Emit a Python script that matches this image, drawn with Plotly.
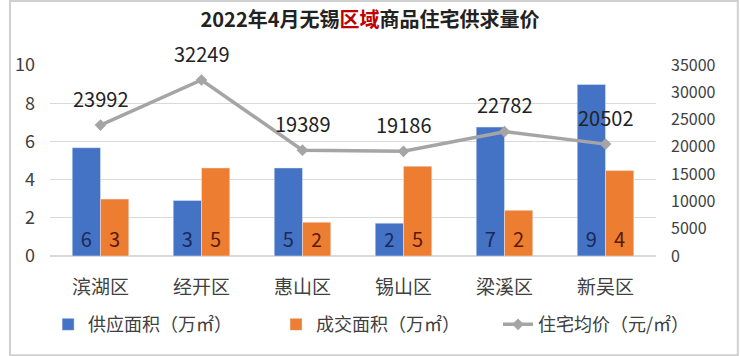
import plotly.graph_objects as go

categories = ["滨湖区", "经开区", "惠山区", "锡山区", "梁溪区", "新吴区"]
supply = [5.67, 2.91, 4.61, 1.72, 6.75, 8.98]
deal = [2.98, 4.61, 1.77, 4.70, 2.39, 4.47]
price = [23992, 32249, 19389, 19186, 22782, 20502]

FONT = "Noto Sans CJK SC"
BLUE = "#4472C4"
ORANGE = "#ED7D31"
GRAY = "#A5A5A5"

fig = go.Figure()
fig.add_trace(go.Bar(
    x=categories, y=supply, name="供应面积（万㎡）", legend="legend",
    marker_color=BLUE,
    text=[f"{round(v)}" for v in supply], textposition="inside",
    insidetextanchor="start",
    textfont=dict(color="#1B2A57", size=20, family=FONT),
))
fig.add_trace(go.Bar(
    x=categories, y=deal, name="成交面积（万㎡）", legend="legend2",
    marker_color=ORANGE,
    text=[f"{round(v)}" for v in deal], textposition="inside",
    insidetextanchor="start",
    textfont=dict(color="#5A1A08", size=20, family=FONT),
))
fig.add_trace(go.Scatter(
    x=categories, y=price, name="住宅均价（元/㎡）", yaxis="y2", legend="legend3",
    mode="lines+markers",
    line=dict(color=GRAY, width=3.5),
    marker=dict(symbol="diamond", size=9, color=GRAY),
))

for c, p in zip(categories, price):
    fig.add_annotation(x=c, y=p, yref="y2", text=str(p), showarrow=False,
                       yshift=27, font=dict(size=20, color="#222222", family=FONT))

leg = dict(orientation="h", xref="container", yref="container",
           xanchor="left", y=0.14, yanchor="top",
           font=dict(size=18, color="#404040"))

fig.update_layout(
    width=740, height=356,
    paper_bgcolor="white", plot_bgcolor="white",
    margin=dict(l=50, r=84, t=65, b=100, autoexpand=False),
    font=dict(family=FONT, color="#404040", size=16),
    title=dict(
        text="<b>2022年4月无锡<span style='color:#C00000'>区域</span>商品住宅供求量价</b>",
        x=0.5, xanchor="center", y=0.945, yanchor="middle",
        font=dict(size=20, color="#222222", family=FONT),
    ),
    barmode="group", bargap=0.44, bargroupgap=0,
    xaxis=dict(showgrid=False, showline=False, ticks="", automargin=False,
               tickfont=dict(size=19, color="#404040"), ticklabelstandoff=18),
    yaxis=dict(range=[0, 10], dtick=2, showgrid=True, gridcolor="#D9D9D9",
               gridwidth=1, zeroline=True, zerolinecolor="#D9D9D9", automargin=False,
               tickfont=dict(size=18, color="#404040"), ticks="", ticklabelstandoff=14),
    yaxis2=dict(range=[0, 35000], dtick=5000, overlaying="y", side="right",
                showgrid=False, zeroline=False, tickformat="d", automargin=False,
                tickfont=dict(size=16, color="#404040"), ticklabelstandoff=14),
    legend=dict(leg, x=0.065),
    legend2=dict(leg, x=0.373),
    legend3=dict(leg, x=0.673),
    showlegend=True,
)
fig.add_shape(type="rect", xref="paper", yref="paper", x0=-0.066, x1=1.135,
              y0=-0.52, y1=1.335, line=dict(color="#D0D0D0", width=2))

fig.write_html("out.html", config={"displayModeBar": False},
               post_script="document.body.style.margin='0';document.body.style.overflow='hidden';")
